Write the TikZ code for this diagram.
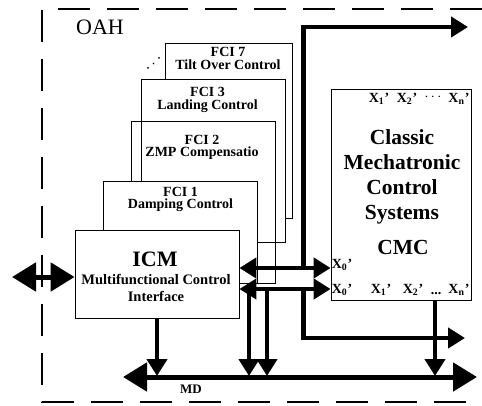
\documentclass[tikz,border=0pt]{standalone}
\usepackage{fontspec}
\setmainfont{Liberation Serif}
\usetikzlibrary{arrows.meta}
\newcommand\Xsb[1]{X\textsubscript{#1}\kern0.3pt'}
\begin{document}
\begin{tikzpicture}[x=1pt,y=-1pt,
  box/.style={draw, line width=0.8pt, inner sep=0pt},
  opaque/.style={box, fill=white},
  lbl/.style={font=\bfseries\fontsize{14}{12.5}\selectfont, align=center, inner sep=0pt},
  xlab/.style={font=\bfseries\fontsize{14}{14}\selectfont, inner sep=0pt},
  bus/.style={line width=4.5pt, -{Triangle[length=17pt,width=20pt]}},
  dbus/.style={line width=4.5pt, {Triangle[length=17pt,width=20pt]}-{Triangle[length=17pt,width=20pt]}},
  bigbus/.style={line width=5pt, {Triangle[length=24pt,width=28pt]}-{Triangle[length=24pt,width=28pt]}},
  frame/.style={line width=1.2pt, dash pattern=on 32pt off 17pt}
]
\useasboundingbox (0,0) rectangle (482,406);
% outer dashed frame
\draw[frame] (482,9) -- (42,9) -- (42,402) -- (482,402);
\node[font=\fontsize{22}{22}\selectfont, inner sep=0pt] (oah) at (100,27) {OAH};

% stacked function boxes
\node[opaque, minimum width=127pt, minimum height=175pt] (fci7) at (228.5,130.5) {};
\node[opaque, minimum width=144pt, minimum height=163pt] (fci3) at (213,160.5) {};
\node[box, minimum width=144pt, minimum height=162pt] (fci2) at (203,202) {};
\node[opaque, minimum width=154pt, minimum height=102pt] (fci1) at (180,232) {};
\node[opaque, minimum width=164pt, minimum height=88pt] (icm) at (157,274) {};
\node[box, minimum width=140pt, minimum height=211pt] (cmc) at (401,194.5) {};

\node[lbl] (fci7t) at (228,58.5) {FCI 7\\Tilt Over Control};
\node[lbl] (fci3t) at (207.5,100) {FCI 3\\Landing Control};
\node[lbl] (fci2t) at (202,147.5) {FCI 2\\ZMP Compensatio};
\node[lbl] (fci1t) at (180.5,199.5) {FCI 1\\Damping Control};
\node[font=\bfseries\fontsize{22}{22}\selectfont, inner sep=0pt] (icmt) at (155,259) {ICM};
\node[lbl, font=\bfseries\fontsize{14.5}{17}\selectfont] (icms) at (156,287.5) {Multifunctional Control\\Interface};
\node[font=\bfseries\fontsize{21.5}{25}\selectfont, align=center, inner sep=0pt] (cmct) at (402,177) {Classic\\Mechatronic\\Control\\Systems};
\node[font=\bfseries\fontsize{21.5}{21.5}\selectfont, inner sep=0pt] (cmcn) at (403,247) {CMC};

% dots near FCI 7
\fill (148,68) circle (1pt) (153.5,63.5) circle (0.8pt) (159,58) circle (1pt);

% X labels
\node[xlab] (xt1) at (379,99) {\Xsb{1}};
\node[xlab] (xt2) at (407,99) {\Xsb{2}};
\node[xlab] (xtd) at (433,97) {$\cdots$};
\node[xlab] (xtn) at (459,99) {\Xsb{n}};
\node[xlab] (xm0) at (342,265) {\Xsb{0}};
\node[xlab] (xb0) at (342,290) {\Xsb{0}};
\node[xlab] (xb1) at (381,290) {\Xsb{1}};
\node[xlab] (xb2) at (413,290) {\Xsb{2}};
\node[xlab] (xbd) at (436,294) {...};
\node[xlab] (xbn) at (459,290) {\Xsb{n}};

% coordinates
\coordinate (lt) at (12,277);
\coordinate (mdL) at (123,377);
\coordinate (mdR) at (477,377);
\coordinate (j1) at (303.5,268);
\coordinate (j2) at (303.5,289);
\coordinate (outA) at (468,27);
\coordinate (outB) at (465,338);
\coordinate (v1) at (249,289);
\coordinate (v2) at (267,289);

% buses
\draw[bus] (j1) |- (outA);
\draw[bus] (j2) |- (outB);
\draw[bus] (icm.south) -- (icm.south |- 0,376);
\draw[bus] (v1) -- (v1 |- 0,376);
\draw[bus] (v2) -- (v2 |- 0,376);
\draw[bus] (cmc.south -| 435,0) -- (435,376);
\draw[dbus] (icm.east |- 0,268) -- (cmc.west |- 0,268);
\draw[dbus] (icm.east |- 0,289) -- (cmc.west |- 0,289);
\draw[bigbus] (lt) -- (icm.west |- lt);
\draw[bigbus] (mdL) -- (mdR);
\node[font=\bfseries\fontsize{13}{13}\selectfont, inner sep=0pt] (md) at (191,389) {MD};
\end{tikzpicture}
\end{document}
